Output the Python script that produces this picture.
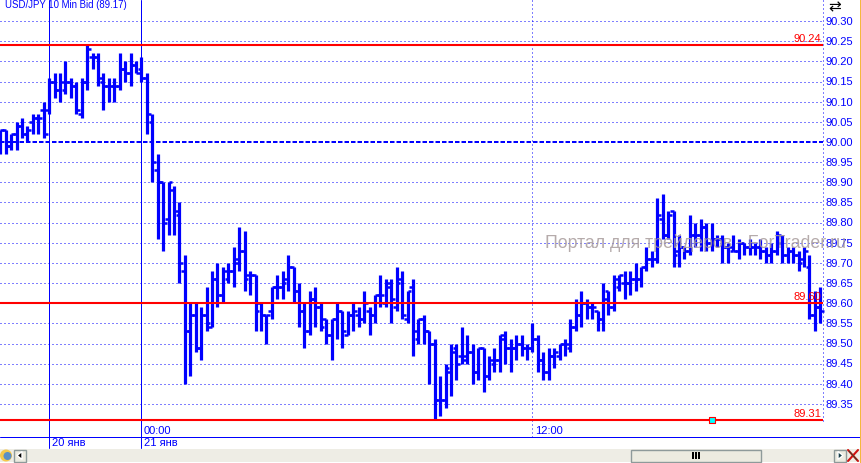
import numpy as np, pandas as pd, seaborn as sns
import matplotlib
matplotlib.use("Agg")
import matplotlib.pyplot as plt
from matplotlib.patches import Rectangle, Polygon, Circle
from matplotlib.transforms import Affine2D

opens = [90.02,90.03,89.99,90.02,90.04,90.02,90.05,90.06,90.08,90.08,
 90.15,90.13,90.13,90.15,90.14,90.07,90.15,90.21,90.21,90.15,
 90.14,90.14,90.14,90.18,90.17,90.19,90.18,90.16,90.05,89.93,
 89.90,89.81,89.88,89.82,89.68,89.53,89.57,89.49,89.57,89.54,
 89.66,89.62,89.66,89.68,89.70,89.73,89.67,89.67,89.60,89.57,
 89.58,89.64,89.64,89.66,89.69,89.63,89.58,89.53,89.61,89.59,
 89.56,89.52,89.56,89.58,89.52,89.57,89.57,89.56,89.58,89.57,
 89.62,89.60,89.64,89.59,89.66,89.56,89.64,89.51,89.56,89.53,
 89.50,89.36,89.36,89.43,89.49,89.47,89.46,89.48,89.43,89.49,
 89.42,89.45,89.46,89.51,89.49,89.49,89.50,89.49,89.49,89.51,
 89.46,89.43,89.47,89.47,89.50,89.49,89.54,89.57,89.60,89.59,
 89.58,89.56,89.63,89.59,89.64,89.65,89.65,89.66,89.66,89.69,
 89.71,89.71,89.81,89.77,89.83,89.73,89.74,89.73,89.77,89.77,
 89.79,89.75,89.76,89.76,89.74,89.73,89.73,89.75,89.74,89.74,
 89.74,89.73,89.72,89.73,89.75,89.72,89.73,89.72,89.71,89.69,
 89.57,89.59]
highs = [90.03,90.03,90.02,90.05,90.06,90.04,90.07,90.07,90.10,90.16,
 90.17,90.17,90.20,90.16,90.15,90.16,90.24,90.22,90.22,90.17,
 90.16,90.16,90.22,90.20,90.22,90.20,90.21,90.17,90.07,89.97,
 89.90,89.90,89.89,89.85,89.72,89.60,89.60,89.59,89.64,89.68,
 89.70,89.69,89.70,89.74,89.79,89.78,89.68,89.67,89.60,89.57,
 89.64,89.67,89.68,89.72,89.69,89.65,89.60,89.63,89.64,89.60,
 89.56,89.56,89.60,89.58,89.58,89.60,89.59,89.63,89.59,89.62,
 89.67,89.66,89.66,89.69,89.68,89.63,89.66,89.56,89.57,89.53,
 89.51,89.42,89.45,89.50,89.50,89.54,89.52,89.50,89.49,89.49,
 89.47,89.49,89.52,89.53,89.51,89.52,89.52,89.50,89.55,89.52,
 89.48,89.49,89.49,89.50,89.51,89.56,89.61,89.63,89.61,89.60,
 89.58,89.65,89.63,89.67,89.67,89.68,89.68,89.70,89.69,89.74,
 89.73,89.86,89.87,89.83,89.83,89.77,89.74,89.82,89.80,89.81,
 89.80,89.80,89.77,89.77,89.75,89.77,89.76,89.75,89.76,89.75,
 89.76,89.74,89.75,89.78,89.77,89.74,89.74,89.73,89.74,89.72,
 89.63,89.64]
lows = [89.97,89.97,89.98,89.98,90.01,90.00,90.02,90.02,90.01,90.07,
 90.11,90.10,90.12,90.11,90.07,90.06,90.13,90.18,90.14,90.08,
 90.10,90.10,90.13,90.15,90.14,90.17,90.15,90.02,89.90,89.76,
 89.73,89.77,89.77,89.65,89.40,89.42,89.48,89.46,89.53,89.54,
 89.59,89.60,89.65,89.64,89.68,89.63,89.62,89.53,89.53,89.50,
 89.56,89.61,89.61,89.63,89.60,89.54,89.49,89.52,89.54,89.53,
 89.50,89.46,89.51,89.49,89.52,89.53,89.54,89.55,89.52,89.55,
 89.59,89.59,89.55,89.58,89.56,89.55,89.47,89.50,89.50,89.40,
 89.31,89.32,89.34,89.37,89.41,89.45,89.45,89.40,89.41,89.38,
 89.41,89.43,89.43,89.45,89.43,89.46,89.47,89.46,89.48,89.43,
 89.41,89.41,89.44,89.46,89.47,89.48,89.53,89.54,89.56,89.56,
 89.53,89.53,89.57,89.58,89.63,89.61,89.62,89.63,89.64,89.68,
 89.69,89.70,89.76,89.76,89.69,89.69,89.71,89.72,89.74,89.73,
 89.73,89.73,89.74,89.70,89.70,89.73,89.71,89.72,89.72,89.72,
 89.71,89.70,89.70,89.72,89.70,89.70,89.70,89.68,89.69,89.56,
 89.53,89.55]
closes = [90.03,89.99,90.02,90.04,90.02,90.03,90.06,90.06,90.02,90.15,
 90.13,90.15,90.15,90.14,90.08,90.15,90.23,90.21,90.16,90.14,
 90.14,90.14,90.18,90.17,90.19,90.17,90.16,90.07,89.95,89.90,
 89.80,89.90,89.83,89.70,89.53,89.57,89.49,89.57,89.55,89.66,
 89.62,89.68,89.68,89.71,89.73,89.66,89.67,89.58,89.57,89.57,
 89.64,89.64,89.65,89.69,89.63,89.58,89.53,89.61,89.59,89.54,
 89.52,89.56,89.58,89.53,89.57,89.58,89.56,89.60,89.57,89.62,
 89.62,89.65,89.61,89.65,89.57,89.63,89.53,89.56,89.53,89.50,
 89.36,89.36,89.44,89.48,89.45,89.47,89.48,89.43,89.49,89.42,
 89.46,89.46,89.52,89.49,89.49,89.50,89.49,89.49,89.51,89.46,
 89.43,89.47,89.48,89.50,89.50,89.54,89.57,89.60,89.59,89.59,
 89.56,89.61,89.59,89.66,89.67,89.65,89.66,89.66,89.69,89.71,
 89.71,89.82,89.77,89.82,89.72,89.74,89.73,89.77,89.77,89.79,
 89.75,89.76,89.76,89.74,89.74,89.73,89.75,89.74,89.74,89.74,
 89.73,89.72,89.73,89.77,89.72,89.73,89.72,89.70,89.73,89.57,
 89.59,89.58]

grid_prices = [90.30,90.25,90.20,90.15,90.10,90.05,90.00,89.95,89.90,89.85,89.80,89.75,89.70,89.65,89.60,89.55,89.50,89.45,89.40,89.35]
level_prices = [90.24,89.60,89.31]
session_bars = [9,26,98]
session_labels = ["20 янв","21 янв"]
title_text = "USD/JPY 10 Min Bid (89.17)"
watermark = "Портал для трейдеров - ForTrader.ru"

W,H = 861,463
sns.set_style("white")
plt.rcParams['font.family'] = ['Liberation Sans','DejaVu Sans']
fig = plt.figure(figsize=(W/100,H/100),dpi=100)
ax = fig.add_axes([0,0,1,1])
BLUE = "#0000FF"; RED = "#FF0000"

# axis scales: bar i sits at pixel 0.3+5.43*i, price p at pixel 142+403*(90-p)
STEP = 5.43
ix = lambda px: (px-0.3)/STEP
py = lambda y: 90-(y-142)/403
px = Affine2D().scale(1/W,-1/H).translate(0,1)+fig.transFigure

n = len(highs)
bars = np.arange(n)
TICK = 3.8/STEP
stem = pd.DataFrame({"bar":np.r_[bars,bars],"x":np.r_[bars,bars],"y":np.r_[lows,highs]})
open_t = pd.DataFrame({"bar":np.r_[bars,bars],"x":np.r_[bars-TICK,bars],"y":np.r_[opens,opens]})
close_t = pd.DataFrame({"bar":np.r_[bars,bars],"x":np.r_[bars,bars+TICK],"y":np.r_[closes,closes]})

xr = ix(823)
DOT = (0,(1,3))
for p in grid_prices:
    if p==90.00:
        ax.plot([ix(0),xr],[p,p],color=BLUE,lw=1.44,ls=(0,(2.25,1)),dash_capstyle='butt',zorder=1)
    else:
        ax.plot([ix(0),xr],[p,p],color=BLUE,lw=0.72,ls=DOT,dash_capstyle='butt',zorder=1)
ax.plot([xr,xr],[py(0),py(421)],color=BLUE,lw=0.72,ls=DOT,dash_capstyle='butt',zorder=1)
ax.plot([session_bars[2]]*2,[py(0),py(437)],color=BLUE,lw=0.72,ls=DOT,dash_capstyle='butt',zorder=1)
for b in session_bars[:2]:
    ax.plot([b,b],[py(0),py(448)],color=BLUE,lw=0.72,zorder=1)
ax.plot([ix(0),ix(860)],[py(437.5),py(437.5)],color=BLUE,lw=0.72,zorder=1)

sns.lineplot(data=stem,x="x",y="y",units="bar",estimator=None,sort=False,color=BLUE,
             linewidth=2.3,solid_capstyle='butt',legend=False,ax=ax,zorder=3)
for d in (open_t,close_t):
    sns.lineplot(data=d,x="x",y="y",units="bar",estimator=None,sort=False,color=BLUE,
                 linewidth=1.8,solid_capstyle='butt',legend=False,ax=ax,zorder=3)
ax.set_xlim(ix(0),ix(W)); ax.set_ylim(py(H),py(0))
ax.axis('off')

for p in level_prices:
    ax.plot([ix(0),xr],[p,p],color=RED,lw=1.5,solid_capstyle='butt',zorder=4)
    ax.text(ix(821),p+0.0025,f"{p:.2f}",color=RED,fontsize=8,ha='right',va='bottom',zorder=5)
ax.scatter([ix(712)],[89.31],marker='s',s=14,facecolor='#00FFFF',edgecolor=RED,linewidth=0.8,zorder=6)

for p in grid_prices:
    ax.text(ix(826),p-0.002,f"{p:.2f}",color=BLUE,fontsize=8,ha='left',va='center',zorder=5)
ax.text(5,5.5,title_text,color=BLUE,fontsize=6.9,ha='left',va='center',transform=px,zorder=5)
ax.text(144,431,"00:00",color=BLUE,fontsize=8,ha='left',va='center',transform=px)
ax.text(535,430.5,"12:00",color=BLUE,fontsize=8,ha='left',va='center',transform=px)
ax.text(52,443.5,session_labels[0],color=BLUE,fontsize=8,ha='left',va='center',transform=px)
ax.text(144,443.5,session_labels[1],color=BLUE,fontsize=8,ha='left',va='center',transform=px)
ax.text(545,243,watermark,color="#A89C9C",alpha=0.85,fontsize=12.8,ha='left',va='center',transform=px,zorder=7)

def rect(x,y,w,h,fc,ec='none',lw=0,z=8):
    ax.add_patch(Rectangle((x,y),w,h,facecolor=fc,edgecolor=ec,linewidth=lw,transform=px,zorder=z,clip_on=False))
rect(0,448.5,860,13.5,'#EEEDE5')
rect(860,0,1,463,'#F5B83D')
rect(630.5,449.5,130,12,'#ECEBE0',ec='#8E9A9A',lw=1,z=9)
for dx in (691.5,694.5,697.5):
    rect(dx,452,2,7,'black',z=10)
rect(13.5,449.5,12,12,'#ECEBE0',ec='#8E9A9A',lw=1,z=9)
rect(833.5,449.5,12,12,'#ECEBE0',ec='#8E9A9A',lw=1,z=9)
ax.add_patch(Polygon([(22,451.5),(22,459.5),(17,455.5)],facecolor='black',transform=px,zorder=10))
ax.add_patch(Polygon([(838,451.5),(838,459.5),(843,455.5)],facecolor='#17404A',transform=px,zorder=10))
ax.add_patch(Circle((6,455.5),6,facecolor='#F5C84B',edgecolor='none',transform=px,zorder=9))
ax.add_patch(Circle((7.5,456),4,facecolor='#5B8FC4',edgecolor='none',transform=px,zorder=10))
ax.plot([848,858],[450,461],color='#D01010',lw=1.5,transform=px,zorder=10)
ax.plot([848,858],[461,450],color='#D01010',lw=1.5,transform=px,zorder=10)
ax.plot([849,857],[451,460],color='#205030',lw=0.6,transform=px,zorder=11)
ax.text(835,6.5,"⇄",color='black',fontsize=11,family='DejaVu Sans',ha='center',va='center',transform=px,zorder=5)

fig.savefig("out.png",dpi=100,facecolor='white')
